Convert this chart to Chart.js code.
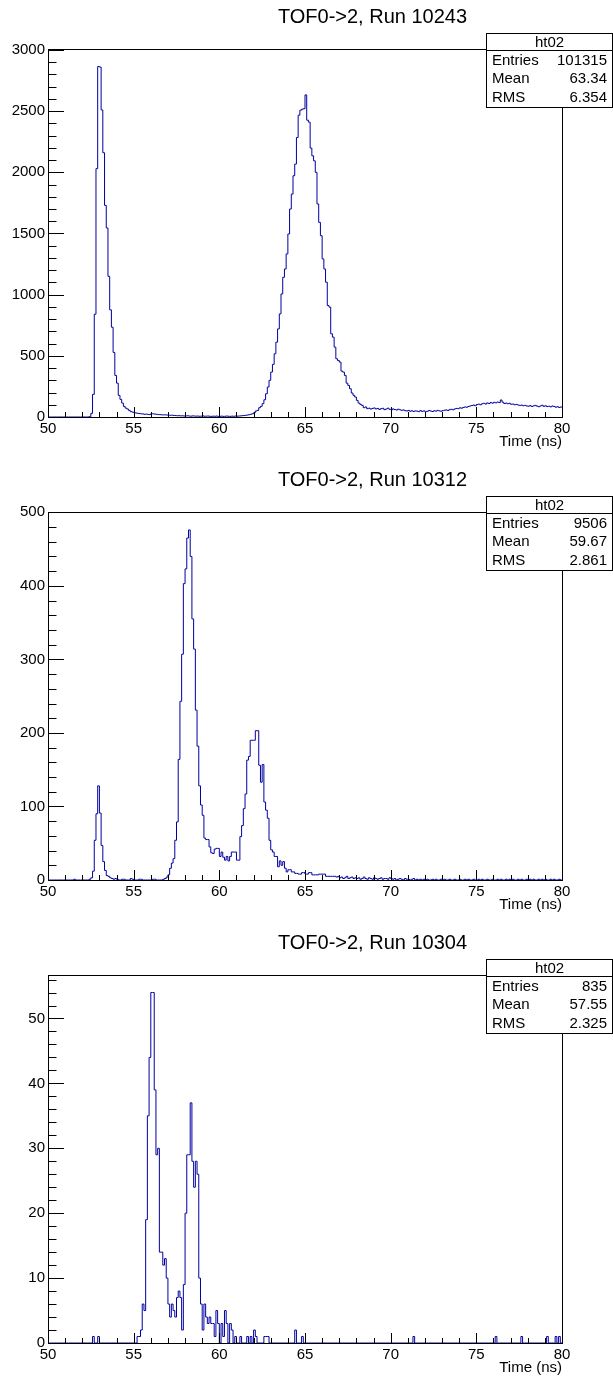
<!DOCTYPE html>
<html>
<head>
<meta charset="utf-8">
<script src="https://cdn.jsdelivr.net/npm/chart.js@4.4.1/dist/chart.umd.min.js"></script>
<style>
html,body{margin:0;padding:0;background:#fff;}
#wrap{position:relative;width:613px;height:1378px;overflow:hidden;background:#fff;}
canvas{position:absolute;left:0;}
</style>
</head>
<body>
<div id="wrap">
<canvas id="c1" width="613" height="459" style="top:0px"></canvas>
<canvas id="c2" width="613" height="460" style="top:459px"></canvas>
<canvas id="c3" width="613" height="459" style="top:919px"></canvas>
</div>
<script>
// ---------------- DATA ----------------
const X_MIN = 50, X_MAX = 80, BIN_WIDTH = 0.1;
const xTickValues = [50, 55, 60, 65, 70, 75, 80];
const xMinorStep = 1;
const xAxisTitle = 'Time (ns)';

const titles = ['TOF0->2, Run 10243', 'TOF0->2, Run 10312', 'TOF0->2, Run 10304'];
const statsName = 'ht02';
const statsEntries = ['101315', '9506', '835'];
const statsMean = ['63.34', '59.67', '57.55'];
const statsRMS = ['6.354', '2.861', '2.325'];

const yMaxValues = [3008, 500.4, 56.7];
const yTicks1 = [0, 500, 1000, 1500, 2000, 2500, 3000];
const yTicks2 = [0, 100, 200, 300, 400, 500];
const yTicks3 = [0, 10, 20, 30, 40, 50];
const yMinorSteps = [100, 20, 2];

// Run 10243 : counts per 0.1 ns bin, 50.0 .. 80.0 ns
const run10243 = [
  0,0,0,0,0,0,0,0,0,0,
  0,0,0,0,0,0,0,0,0,0,
  0,0,0,0,3,30,185,840,2030,2865,
  2860,2510,2160,1730,1545,1150,876,734,528,340,
  277,177,144,114,87,73,65,54,44,40,
  35,33,30,28,26,25,22,24,21,20,
  27,26,24,22,20,19,18,17,18,16,
  15,14,15,13,12,10,11,9,10,8,
  9,10,8,7,9,8,7,8,6,7,
  9,6,7,8,6,5,7,6,8,5,
  6,7,5,6,8,6,5,7,6,8,
  7,8,9,11,12,14,16,19,22,27,
  35,49,54,76,87,109,141,190,245,300,
  367,430,517,612,720,843,1006,1142,1210,1333,
  1496,1700,1822,1972,2067,2285,2467,2508,2516,2520,
  2633,2426,2410,2198,2135,2094,2000,1741,1591,1482,
  1292,1210,1102,911,898,680,653,571,476,462,
  449,375,367,340,277,258,231,196,177,163,
  136,114,103,95,76,82,68,72,65,70,
  74,66,70,62,68,71,60,65,72,63,
  58,66,61,57,64,59,55,58,52,49,
  54,47,51,45,50,48,44,52,46,50,
  43,47,53,49,45,51,48,54,50,47,
  52,55,58,53,60,63,59,66,70,68,
  75,72,78,82,80,86,90,94,98,92,
  102,105,100,108,112,106,115,110,118,113,
  120,116,122,118,139,121,110,114,108,112,
  104,106,100,103,98,95,97,92,95,90,
  88,93,86,91,95,89,84,90,96,87,
  92,85,88,83,90,86,80,84,78,82
];

// Run 10312
const run10312 = [
  0,0,0,0,0,0,0,0,0,0,
  0,0,0,0,0,1,0,0,0,0,
  0,0,0,0,1,3,12,54,90,128,
  91,47,25,13,6,5,3,2,1,2,
  1,0,0,1,1,0,0,0,2,1,
  0,0,0,1,1,0,0,0,0,0,
  0,1,1,0,0,0,0,1,2,4,
  7,16,23,29,54,79,164,243,307,403,
  423,465,476,440,355,314,231,182,128,102,
  88,57,55,55,45,37,36,42,43,43,
  32,38,31,27,32,26,32,38,38,38,
  27,27,59,74,97,117,163,168,190,190,
  190,203,203,156,133,157,106,95,84,54,
  41,38,32,32,18,26,20,25,16,11,
  14,14,11,11,9,9,8,8,10,10,
  8,8,10,10,7,7,7,7,8,8,
  8,8,5,5,5,5,5,5,4,5,
  3,4,2,3,5,2,3,4,2,3,
  2,3,1,2,4,2,1,3,2,1,
  3,2,1,2,3,1,2,2,1,3,
  2,1,2,0,1,2,1,0,2,1,
  1,0,1,2,0,1,0,1,0,1,
  0,1,0,0,1,0,1,0,0,1,
  0,1,0,0,1,0,0,1,0,0,
  1,0,0,1,0,1,0,0,1,0,
  0,1,0,1,0,0,1,0,0,1,
  0,0,1,0,1,0,0,1,0,1,
  0,1,0,0,1,0,1,0,0,1,
  0,1,0,1,0,0,1,0,1,0,
  1,0,0,1,0,1,0,0,1,0
];

// Run 10304
const run10304 = [
  0,0,0,0,0,0,0,0,0,0,
  0,0,0,0,0,0,0,0,0,0,
  0,0,0,0,0,0,1,0,0,1,
  0,0,0,0,0,0,0,0,0,0,
  0,0,0,0,0,0,0,0,0,0,
  0,0,1,1,2,6,5,19,35,44,
  54,54,39,29,30,14,14,12,13,10,
  6,4,6,5,4,7,8,7,2,9,
  20,29,29,37,28,24,28,26,10,6,
  2,6,4,3,4,3,3,1,5,3,
  0,3,1,5,3,0,3,2,0,1,
  0,0,1,0,0,0,1,0,1,0,
  2,1,0,0,0,0,1,1,1,0,
  0,0,0,0,0,0,0,0,0,0,
  0,0,0,0,2,0,0,0,1,0,
  0,0,0,0,0,0,0,0,0,0,
  0,0,0,0,0,0,0,0,0,0,
  0,0,0,0,0,0,0,0,0,0,
  0,0,0,0,0,0,0,0,0,0,
  0,0,0,0,0,0,0,0,0,0,
  0,0,0,0,0,0,0,0,0,0,
  0,0,0,1,0,0,0,0,0,0,
  0,0,0,0,0,0,0,0,0,0,
  0,0,0,0,0,0,0,0,0,0,
  0,0,0,0,0,0,0,0,0,0,
  0,0,0,0,0,0,0,0,0,0,
  0,1,0,0,0,0,0,0,0,0,
  0,0,0,0,0,0,1,0,0,0,
  0,0,0,0,0,0,0,0,0,0,
  0,1,0,0,0,0,1,0,1,0
];

// ---------------- LAYOUT / STYLE ----------------
const FONT = '"Liberation Sans", Arial, Helvetica, sans-serif';
const LINE_COLOR = '#0000a0';
const panels = [
  {id: 'c1', values: run10243, yTicks: yTicks1, H: 459, frameTop: 49, frameBottom: 417},
  {id: 'c2', values: run10312, yTicks: yTicks2, H: 460, frameTop: 53, frameBottom: 421},
  {id: 'c3', values: run10304, yTicks: yTicks3, H: 459, frameTop: 56, frameBottom: 424}
];
const FRAME_LEFT = 48, FRAME_RIGHT = 562, CANVAS_W = 613;

Chart.defaults.font.family = FONT;
Chart.defaults.font.size = 15;
Chart.defaults.color = '#000';

function line(ctx, x1, y1, x2, y2) {
  ctx.beginPath(); ctx.moveTo(x1, y1); ctx.lineTo(x2, y2); ctx.stroke();
}

const rootPad = {
  id: 'rootPad',
  afterDraw(chart, args, o) {
    const ctx = chart.ctx, a = chart.chartArea;
    const xs = chart.scales.x, ys = chart.scales.y;
    const L = Math.round(a.left) + 0.5, R = Math.round(a.right) + 0.5;
    const T = Math.round(a.top) + 0.5, B = Math.round(a.bottom) + 0.5;
    ctx.save();
    ctx.strokeStyle = '#000';
    ctx.lineWidth = 1;
    ctx.strokeRect(L, T, R - L, B - T);
    // x ticks (inward)
    for (let i = 0; ; i++) {
      const v = X_MIN + i * xMinorStep;
      if (v > X_MAX + 1e-9) break;
      const px = Math.round(xs.getPixelForValue(v)) + 0.5;
      const major = xTickValues.includes(v);
      line(ctx, px, B, px, B - (major ? 10.5 : 5.5));
    }
    // y ticks (inward)
    for (let i = 0; ; i++) {
      const v = i * o.yMinor;
      if (v > ys.max + 1e-9) break;
      const py = Math.round(ys.getPixelForValue(v)) + 0.5;
      const major = o.yTicks.includes(v);
      line(ctx, L, py, L + (major ? 15.5 : 8), py);
    }
    // axis title
    ctx.fillStyle = '#000';
    ctx.font = '15px ' + FONT;
    ctx.textAlign = 'right';
    ctx.textBaseline = 'middle';
    ctx.fillText(xAxisTitle, a.right, a.bottom + 25);
    // histogram title
    ctx.font = '20px ' + FONT;
    ctx.textAlign = 'center';
    ctx.fillText(o.title, 372.5, a.top - 32);
    // stats box
    const bl = 486.5, br = 612.5;
    const bt = Math.round(a.top - 16.5) + 0.5, bh = Math.round(a.top + 1) + 0.5, bb = Math.round(a.top + 57.5) + 0.5;
    ctx.fillStyle = '#fff';
    ctx.fillRect(bl, bt, br - bl, bb - bt);
    ctx.strokeRect(bl, bt, br - bl, bb - bt);
    line(ctx, bl, bh, br, bh);
    ctx.fillStyle = '#000';
    ctx.font = '15px ' + FONT;
    ctx.textAlign = 'center';
    ctx.fillText(statsName, (bl + br) / 2, (bt + bh) / 2 + 0.5);
    const rows = [['Entries', o.entries], ['Mean', o.mean], ['RMS', o.rms]];
    rows.forEach((r, i) => {
      const yy = a.top + 12 + i * 18.3;
      ctx.textAlign = 'left';
      ctx.fillText(r[0], 492, yy);
      ctx.textAlign = 'right';
      ctx.fillText(r[1], 607, yy);
    });
    ctx.restore();
  }
};

panels.forEach((p, idx) => {
  const pts = p.values.map((v, i) => ({x: X_MIN + i * BIN_WIDTH, y: v}));
  pts.push({x: X_MAX, y: p.values[p.values.length - 1]});
  new Chart(document.getElementById(p.id), {
    type: 'line',
    data: {
      datasets: [{
        data: pts,
        borderColor: LINE_COLOR,
        borderWidth: 1,
        pointRadius: 0,
        stepped: 'before',
        fill: false,
        tension: 0
      }]
    },
    options: {
      responsive: false,
      animation: false,
      events: [],
      layout: {padding: {top: p.frameTop, right: CANVAS_W - FRAME_RIGHT, bottom: 0, left: 0}},
      scales: {
        x: {
          type: 'linear', min: X_MIN, max: X_MAX,
          afterFit: s => { s.height = p.H - p.frameBottom; },
          afterBuildTicks: s => { s.ticks = xTickValues.map(v => ({value: v})); },
          ticks: {autoSkip: false, maxRotation: 0, padding: 3, font: {family: FONT, size: 15}, color: '#000',
                  callback: v => String(v)},
          grid: {display: false, drawTicks: false},
          border: {display: false}
        },
        y: {
          type: 'linear', min: 0, max: yMaxValues[idx],
          afterFit: s => { s.width = FRAME_LEFT; },
          afterBuildTicks: s => { s.ticks = p.yTicks.map(v => ({value: v})); },
          ticks: {autoSkip: false, padding: 3, font: {family: FONT, size: 15}, color: '#000',
                  callback: v => String(v)},
          grid: {display: false, drawTicks: false},
          border: {display: false}
        }
      },
      plugins: {
        legend: {display: false},
        tooltip: {enabled: false},
        title: {display: false},
        rootPad: {
          title: titles[idx], entries: statsEntries[idx], mean: statsMean[idx], rms: statsRMS[idx],
          yMinor: yMinorSteps[idx], yTicks: p.yTicks
        }
      }
    },
    plugins: [rootPad]
  });
});
</script>
</body>
</html>
